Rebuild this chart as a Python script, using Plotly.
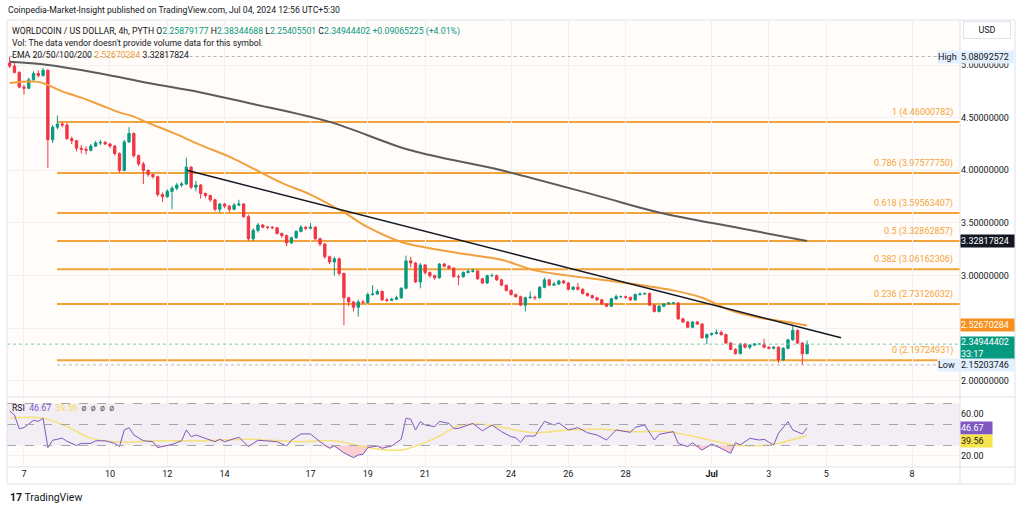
import plotly.graph_objects as go
import pandas as pd

# ---- price data: 4h candles, first bar 2024-06-06 12:00 ----
start = "2024-06-06 12:00"
first_open = 5.02
close = [4.99, 4.93, 4.79, 4.78, 4.86, 4.92, 4.90, 4.95, 4.29, 4.41,
         4.44, 4.43, 4.30, 4.28, 4.21, 4.20, 4.19, 4.23, 4.26, 4.265,
         4.25, 4.23, 4.16, 4.00, 4.27, 4.35, 4.14, 4.06, 4.00, 3.96,
         3.94, 3.77, 3.75, 3.80, 3.83, 3.86, 3.87, 4.03, 3.84, 3.86,
         3.78, 3.76, 3.72, 3.63, 3.68, 3.66, 3.63, 3.67, 3.68, 3.56,
         3.35, 3.43, 3.48, 3.46, 3.46, 3.455, 3.40, 3.38, 3.31, 3.36,
         3.42, 3.46, 3.45, 3.46, 3.35, 3.30, 3.18, 3.13, 3.16, 3.02,
         2.79, 2.75, 2.70, 2.75, 2.745, 2.82, 2.825, 2.85, 2.77, 2.765,
         2.775, 2.79, 2.88, 3.14, 3.12, 2.94, 3.10, 3.03, 3.00, 2.98,
         3.11, 3.09, 3.07, 2.99, 2.99, 3.03, 3.04, 3.045, 2.97, 2.93,
         3.00, 3.00, 2.96, 2.91, 2.86, 2.82, 2.80, 2.72, 2.79, 2.795,
         2.79, 2.89, 2.96, 2.91, 2.92, 2.95, 2.93, 2.87, 2.89, 2.87,
         2.83, 2.81, 2.79, 2.77, 2.73, 2.71, 2.78, 2.80, 2.80, 2.795,
         2.77, 2.82, 2.825, 2.83, 2.72, 2.66, 2.71, 2.73, 2.74, 2.74,
         2.59, 2.56, 2.51, 2.56, 2.54, 2.41, 2.44, 2.45, 2.46, 2.44,
         2.36, 2.30, 2.26, 2.35, 2.32, 2.34, 2.35, 2.35, 2.32, 2.31,
         2.32, 2.20, 2.31, 2.39, 2.48, 2.36, 2.25879177, 2.34944402]
high = [5.08092572, 5.03, 4.94, 4.81, 4.88, 4.94, 4.95, 4.97, 4.96, 4.43,
        4.52, 4.46, 4.45, 4.32, 4.29, 4.24, 4.23, 4.25, 4.28, 4.29,
        4.28, 4.26, 4.24, 4.17, 4.29, 4.41, 4.36, 4.15, 4.08, 4.01,
        3.97, 3.95, 3.79, 3.82, 3.85, 3.88, 3.89, 4.12, 4.04, 3.90,
        3.87, 3.79, 3.77, 3.73, 3.69, 3.69, 3.67, 3.69, 3.72, 3.69,
        3.58, 3.45, 3.50, 3.49, 3.47, 3.47, 3.46, 3.41, 3.39, 3.37,
        3.43, 3.48, 3.47, 3.50, 3.47, 3.36, 3.31, 3.19, 3.18, 3.17,
        3.03, 2.80, 2.76, 2.77, 2.77, 2.84, 2.91, 2.87, 2.86, 2.79,
        2.79, 2.81, 2.89, 3.19, 3.18, 3.13, 3.12, 3.11, 3.04, 3.01,
        3.12, 3.12, 3.10, 3.08, 3.01, 3.04, 3.06, 3.07, 3.05, 2.98,
        3.01, 3.02, 3.01, 2.97, 2.91, 2.87, 2.83, 2.81, 2.80, 2.85,
        2.81, 2.90, 2.98, 2.97, 2.94, 2.96, 2.96, 2.94, 2.90, 2.93,
        2.88, 2.84, 2.82, 2.80, 2.78, 2.74, 2.79, 2.82, 2.81, 2.81,
        2.80, 2.83, 2.84, 2.84, 2.84, 2.73, 2.72, 2.74, 2.75, 2.75,
        2.75, 2.60, 2.57, 2.57, 2.57, 2.55, 2.45, 2.46, 2.49, 2.48,
        2.45, 2.37, 2.31, 2.36, 2.36, 2.35, 2.36, 2.36, 2.40, 2.33,
        2.33, 2.33, 2.32, 2.40, 2.52, 2.49, 2.37, 2.38344688]
low = [4.97, 4.92, 4.78, 4.72, 4.77, 4.85, 4.88, 4.89, 4.02, 4.26,
       4.39, 4.41, 4.29, 4.25, 4.18, 4.16, 4.15, 4.18, 4.22, 4.24,
       4.24, 4.21, 4.14, 3.98, 3.99, 4.26, 4.12, 4.04, 3.87, 3.94,
       3.92, 3.75, 3.70, 3.74, 3.63, 3.81, 3.84, 3.86, 3.82, 3.80,
       3.73, 3.74, 3.70, 3.61, 3.60, 3.64, 3.60, 3.62, 3.66, 3.55,
       3.33, 3.33, 3.41, 3.45, 3.44, 3.44, 3.39, 3.36, 3.28, 3.30,
       3.35, 3.41, 3.43, 3.44, 3.34, 3.28, 3.16, 3.11, 3.00, 3.00,
       2.53, 2.71, 2.66, 2.61, 2.73, 2.73, 2.81, 2.82, 2.76, 2.75,
       2.76, 2.77, 2.78, 2.87, 3.08, 2.93, 2.88, 3.01, 2.98, 2.96,
       2.97, 3.08, 3.06, 2.98, 2.91, 2.98, 3.02, 3.03, 2.96, 2.92,
       2.92, 2.99, 2.95, 2.90, 2.85, 2.81, 2.79, 2.71, 2.66, 2.78,
       2.77, 2.78, 2.88, 2.90, 2.90, 2.91, 2.92, 2.86, 2.86, 2.86,
       2.82, 2.80, 2.78, 2.76, 2.72, 2.70, 2.70, 2.77, 2.79, 2.78,
       2.76, 2.76, 2.81, 2.82, 2.71, 2.65, 2.65, 2.70, 2.73, 2.73,
       2.58, 2.55, 2.50, 2.50, 2.53, 2.40, 2.35, 2.43, 2.44, 2.43,
       2.35, 2.29, 2.25, 2.25, 2.31, 2.30, 2.33, 2.34, 2.31, 2.30,
       2.30, 2.17, 2.19, 2.30, 2.38, 2.35, 2.15203746, 2.25405501]

# ---- EMA 50 / EMA 200 ----
ema50_time = ["2024-06-06 12:00", "2024-06-07 12:00", "2024-06-07 20:00", "2024-06-08 08:00",
              "2024-06-09 00:00", "2024-06-09 16:00", "2024-06-10 08:00", "2024-06-10 20:00",
              "2024-06-11 08:00", "2024-06-12 04:00", "2024-06-13 04:00", "2024-06-14 04:00",
              "2024-06-14 20:00", "2024-06-16 00:00", "2024-06-17 00:00", "2024-06-18 04:00",
              "2024-06-19 00:00", "2024-06-20 04:00", "2024-06-21 04:00", "2024-06-22 12:00",
              "2024-06-23 16:00", "2024-06-24 20:00", "2024-06-26 00:00", "2024-06-27 12:00",
              "2024-06-28 12:00", "2024-06-29 16:00", "2024-06-30 16:00", "2024-07-01 16:00",
              "2024-07-02 16:00", "2024-07-03 16:00", "2024-07-04 08:00"]
ema50 = [4.83, 4.84, 4.81, 4.75, 4.69, 4.62, 4.55, 4.51, 4.45, 4.36, 4.24, 4.13,
         4.04, 3.88, 3.77, 3.60, 3.46, 3.32, 3.26, 3.20, 3.15, 3.05, 3.00, 2.95,
         2.91, 2.86, 2.79, 2.67, 2.60, 2.56, 2.52670284]
ema200_time = ["2024-06-06 12:00", "2024-06-07 20:00", "2024-06-09 16:00", "2024-06-11 08:00",
               "2024-06-13 04:00", "2024-06-14 20:00", "2024-06-17 16:00", "2024-06-20 12:00",
               "2024-06-23 16:00", "2024-06-27 00:00", "2024-06-29 04:00", "2024-07-02 00:00",
               "2024-07-04 08:00"]
ema200 = [5.03, 5.00, 4.92, 4.83, 4.74, 4.64, 4.46, 4.19, 4.00, 3.76, 3.60, 3.45, 3.32817824]

# ---- fibonacci retracement & trend line ----
fib_ratio = ["1", "0.786", "0.618", "0.5", "0.382", "0.236", "0"]
fib_price = [4.46000782, 3.97577750, 3.59563407, 3.32862857, 3.06162306, 2.73126032, 2.19724931]
fib_start = "2024-06-08 03:40"
trend_time = ["2024-06-12 16:30", "2024-07-05 12:25"]
trend_price = [4.00, 2.41]

# ---- RSI and its moving average ----
rsi_time = ["2024-06-06 12:00", "2024-06-06 16:00", "2024-06-06 20:00", "2024-06-07 00:00",
            "2024-06-07 08:00", "2024-06-07 12:00", "2024-06-07 16:00", "2024-06-07 20:00",
            "2024-06-08 00:00", "2024-06-08 08:00", "2024-06-08 12:00", "2024-06-08 20:00",
            "2024-06-09 00:00", "2024-06-09 08:00", "2024-06-09 12:00", "2024-06-09 20:00",
            "2024-06-10 04:00", "2024-06-10 08:00", "2024-06-10 12:00", "2024-06-10 16:00",
            "2024-06-10 20:00", "2024-06-11 04:00", "2024-06-11 12:00", "2024-06-11 16:00",
            "2024-06-12 04:00", "2024-06-12 12:00", "2024-06-12 16:00", "2024-06-12 20:00",
            "2024-06-13 00:00", "2024-06-13 08:00", "2024-06-13 16:00", "2024-06-13 20:00",
            "2024-06-14 00:00", "2024-06-14 12:00", "2024-06-14 20:00", "2024-06-15 04:00",
            "2024-06-15 12:00", "2024-06-15 20:00", "2024-06-16 04:00", "2024-06-16 08:00",
            "2024-06-16 16:00", "2024-06-17 00:00", "2024-06-17 08:00", "2024-06-17 16:00",
            "2024-06-17 20:00", "2024-06-18 04:00", "2024-06-18 12:00", "2024-06-18 16:00",
            "2024-06-18 20:00", "2024-06-19 00:00", "2024-06-19 08:00", "2024-06-19 12:00",
            "2024-06-19 20:00", "2024-06-20 04:00", "2024-06-20 08:00", "2024-06-20 12:00",
            "2024-06-20 16:00", "2024-06-20 20:00", "2024-06-21 00:00", "2024-06-21 08:00",
            "2024-06-21 12:00", "2024-06-21 20:00", "2024-06-22 00:00", "2024-06-22 04:00",
            "2024-06-22 12:00", "2024-06-22 16:00", "2024-06-23 00:00", "2024-06-23 08:00",
            "2024-06-23 16:00", "2024-06-24 00:00", "2024-06-24 04:00", "2024-06-24 08:00",
            "2024-06-24 12:00", "2024-06-24 20:00", "2024-06-25 04:00", "2024-06-25 12:00",
            "2024-06-25 16:00", "2024-06-26 00:00", "2024-06-26 08:00", "2024-06-26 16:00",
            "2024-06-27 00:00", "2024-06-27 08:00", "2024-06-27 16:00", "2024-06-28 04:00",
            "2024-06-28 08:00", "2024-06-28 16:00", "2024-06-29 00:00", "2024-06-29 04:00",
            "2024-06-29 16:00", "2024-06-29 20:00", "2024-06-30 04:00", "2024-06-30 08:00",
            "2024-06-30 16:00", "2024-07-01 00:00", "2024-07-01 08:00", "2024-07-01 16:00",
            "2024-07-01 20:00", "2024-07-02 00:00", "2024-07-02 08:00", "2024-07-02 16:00",
            "2024-07-02 20:00", "2024-07-03 04:00", "2024-07-03 08:00", "2024-07-03 16:00",
            "2024-07-03 20:00", "2024-07-04 04:00", "2024-07-04 08:00"]
rsi = [63, 59, 46, 47, 54, 53, 56, 28, 35, 37, 34, 30, 32, 32, 34.5, 34.5, 32, 29,
       44.8, 47, 40, 34.5, 33.6, 28, 31, 34.5, 44.8, 38.4, 40, 37, 33.6, 36, 33.6,
       37.8, 29, 35, 34.5, 33.6, 29.5, 35, 41, 41, 33.6, 27.3, 29.5, 23, 18.4, 21,
       21.5, 28, 29.5, 27.3, 29.5, 36, 56, 55, 44.8, 52.7, 49.5, 48, 53, 51, 46.3,
       46.3, 49.5, 51, 44, 49.5, 43.2, 38.4, 37.5, 33, 39, 39, 53, 49.5, 51.5, 44.8,
       47, 42.2, 40, 35.2, 44.8, 42.5, 47.3, 49.5, 35.2, 40.6, 43.2, 32, 28.9, 32.7,
       25.7, 31.4, 27.3, 22.5, 32.7, 30.5, 36.8, 35.2, 35.9, 30.5, 41.6, 52.7, 44.8,
       41, 46.67]
rsi_ma_time = ["2024-06-06 12:00", "2024-06-07 16:00", "2024-06-08 12:00", "2024-06-09 08:00",
               "2024-06-10 12:00", "2024-06-11 12:00", "2024-06-13 04:00", "2024-06-14 20:00",
               "2024-06-16 16:00", "2024-06-17 20:00", "2024-06-19 00:00", "2024-06-20 04:00",
               "2024-06-21 08:00", "2024-06-22 04:00", "2024-06-22 20:00", "2024-06-23 16:00",
               "2024-06-24 20:00", "2024-06-26 00:00", "2024-06-27 04:00", "2024-06-28 08:00",
               "2024-06-29 12:00", "2024-06-30 16:00", "2024-07-01 20:00", "2024-07-03 00:00",
               "2024-07-04 08:00"]
rsi_ma = [56, 56, 48, 37, 33, 34.5, 34.5, 35.9, 33.6, 34.5, 28, 25.7, 36.8, 48.6, 50.5,
          47.3, 42.2, 44.8, 45.4, 43.2, 43.2, 36.8, 30.5, 30.5, 39.56]

# ---- axis ticks ----
date_ticks = ["2024-06-07", "2024-06-10", "2024-06-12", "2024-06-14", "2024-06-17", "2024-06-19",
              "2024-06-21", "2024-06-24", "2024-06-26", "2024-06-28", "2024-07-01", "2024-07-03",
              "2024-07-05", "2024-07-08"]
date_labels = ["7", "10", "12", "14", "17", "19", "21", "24", "26", "28", "<b>Jul</b>", "3", "5", "8"]
price_ticks = [2.0, 2.5, 3.0, 3.5, 4.0, 4.5, 5.0]
price_labels = ["2.00000000", "", "3.00000000", "3.50000000", "4.00000000", "4.50000000", "5.00000000"]

W, H = 1024, 509
GREEN, RED = "#089981", "#F23645"
FIB = "#f2a43a"
FONT = "Roboto"
TXT = "#131722"
x_left, x_right = "2024-06-06 09:46", "2024-07-09 16:05"


def px(x):
    return x / W


def py(y):
    return 1 - y / H


times = pd.date_range(start, periods=len(close), freq="4h")
opens = [first_open] + close[:-1]

fig = go.Figure()

# fib lines (under candles)
for p in fib_price:
    fig.add_shape(type="line", xref="x", yref="y", x0=fib_start, x1=x_right, y0=p, y1=p,
                  line=dict(color=FIB, width=2), layer="below")

# dotted high / low / last price lines
fig.add_shape(type="line", xref="x", yref="y", x0=times[0], x1=x_right, y0=max(high), y1=max(high),
              line=dict(color="#b2b5be", width=1, dash="dot"))
fig.add_shape(type="line", xref="x", yref="y", x0=fib_start, x1=x_right, y0=min(low), y1=min(low),
              line=dict(color="#b2b5be", width=1, dash="dot"))
fig.add_shape(type="line", xref="x", yref="y", x0=x_left, x1=x_right, y0=close[-1], y1=close[-1],
              line=dict(color="#7fc8b8", width=1, dash="dot"))

fig.add_trace(go.Scatter(x=ema200_time, y=ema200, mode="lines", line=dict(color="#5d5b5b", width=2, shape="spline"),
                         xaxis="x", yaxis="y", hoverinfo="skip"))
fig.add_trace(go.Scatter(x=ema50_time, y=ema50, mode="lines", line=dict(color="#f0a03c", width=2, shape="spline"),
                         xaxis="x", yaxis="y", hoverinfo="skip"))

fig.add_trace(go.Candlestick(
    x=times, open=opens, high=high, low=low, close=close,
    increasing=dict(line=dict(color=GREEN, width=1), fillcolor=GREEN),
    decreasing=dict(line=dict(color=RED, width=1), fillcolor=RED),
    whiskerwidth=0, xaxis="x", yaxis="y", hoverinfo="skip"))

fig.add_trace(go.Scatter(x=trend_time, y=trend_price, mode="lines", line=dict(color="#131722", width=1.5),
                         xaxis="x", yaxis="y", hoverinfo="skip"))

# RSI pane
fig.add_shape(type="rect", xref="x2", yref="y2", x0=x_left, x1=x_right, y0=30, y1=70,
              fillcolor="rgba(126,87,194,0.09)", line_width=0, layer="below")
for lv in [70, 50, 30]:
    fig.add_shape(type="line", xref="x2", yref="y2", x0=x_left, x1=x_right, y0=lv, y1=lv,
                  line=dict(color="#a3a6af", width=1, dash="dash"))

fig.add_trace(go.Scatter(x=rsi_time, y=[30] * len(rsi), mode="lines", line=dict(width=0),
                         xaxis="x2", yaxis="y2", hoverinfo="skip"))
fig.add_trace(go.Scatter(x=rsi_time, y=[min(v, 30) for v in rsi], mode="lines", line=dict(width=0),
                         fill="tonexty", fillcolor="rgba(242,54,69,0.22)",
                         xaxis="x2", yaxis="y2", hoverinfo="skip"))
fig.add_trace(go.Scatter(x=rsi_ma_time, y=rsi_ma, mode="lines", line=dict(color="#f5e17a", width=1.5, shape="spline"),
                         xaxis="x2", yaxis="y2", hoverinfo="skip"))
fig.add_trace(go.Scatter(x=rsi_time, y=rsi, mode="lines", line=dict(color="#7e57c2", width=1),
                         xaxis="x2", yaxis="y2", hoverinfo="skip"))

xdom = [px(7), px(960)]
grid = "#f0f1f4"
fig.update_layout(
    width=W, height=H, margin=dict(l=0, r=0, t=0, b=0),
    paper_bgcolor="white", plot_bgcolor="#fffcfa", showlegend=False, hovermode=False,
    font=dict(family=FONT, size=9, color=TXT),
    xaxis=dict(domain=xdom, anchor="y", range=[x_left, x_right], tickvals=date_ticks, showticklabels=False,
               showgrid=True, gridcolor=grid, rangeslider=dict(visible=False), zeroline=False),
    yaxis=dict(domain=[py(396), py(21)], range=[1.857, 5.418], side="right", anchor="x",
               tickvals=price_ticks, ticktext=price_labels, showgrid=True, gridcolor=grid,
               ticks="", zeroline=False, tickfont=dict(size=9, color=TXT)),
    xaxis2=dict(domain=xdom, anchor="y2", range=[x_left, x_right], tickvals=date_ticks, ticktext=date_labels,
                showgrid=True, gridcolor=grid, tickfont=dict(size=9, color=TXT), ticks="", zeroline=False),
    yaxis2=dict(domain=[py(467), py(397)], range=[9.5, 76.2], side="right", anchor="x2",
                tickvals=[20, 60], ticktext=["20.00", "60.00"], showgrid=True, gridcolor=grid,
                ticks="", zeroline=False, tickfont=dict(size=9, color=TXT)),
)

# frame lines
frame = "#e0e3eb"
for x0, y0, x1, y1 in [(7, 20, 1015, 20), (7, 484, 1015, 484), (7, 20, 7, 484), (1015, 20, 1015, 484),
                       (960, 20, 960, 484), (7, 397, 1015, 397), (7, 467, 1015, 467)]:
    fig.add_shape(type="line", xref="paper", yref="paper", x0=px(x0), x1=px(x1), y0=py(y0), y1=py(y1),
                  line=dict(color=frame, width=1))

ann = []


def text(x, y, s, size=8.7, color=TXT, xanchor="left", **kw):
    ann.append(dict(x=px(x), y=py(y), xref="paper", yref="paper", text=s, showarrow=False,
                    xanchor=xanchor, yanchor="middle", font=dict(size=size, color=color, family=FONT), **kw))


def g(s):
    return f"<span style='color:{GREEN}'>{s}</span>"


text(6, 10, "Coinpedia-Market-Insight published on TradingView.com, Jul 04, 2024 12:56 UTC+5:30")
text(10, 31, "WORLDCOIN / US DOLLAR, 4h, PYTH O" + g("2.25879177") + " H" + g("2.38344688") + " L"
     + g("2.25405501") + " C" + g("2.34944402") + " " + g("+0.09065225 (+4.01%)"))
text(10, 43, "Vol: The data vendor doesn't provide volume data for this symbol.")
text(10, 55, "EMA 20/50/100/200 <span style='color:#f0a03c'>2.52670284</span> 3.32817824")
text(10, 408, "RSI  <span style='color:#7e57c2'>46.67</span>  <span style='color:#f2dc5d'>39.56</span>"
     "  <span style='color:#555'>ø  ø  ø  ø</span>")

for r, p in zip(fib_ratio, fib_price):
    ann.append(dict(x=px(955), y=p, xref="paper", yref="y", text=f"{r} ({p:.8f})", showarrow=False,
                    xanchor="right", yanchor="bottom", yshift=2, font=dict(size=9, color=FIB, family=FONT)))


def tag(y, s, bg, color="white", yref="y", w=53, h=12, x=960, yshift=0):
    ann.append(dict(x=px(x), y=y, xref="paper", yref=yref, text=s, showarrow=False, xanchor="left",
                    yanchor="middle", bgcolor=bg, width=w, height=h, align="left", borderpad=0,
                    yshift=yshift, font=dict(size=9, color=color, family=FONT)))


text(987, 30, "USD", size=9, xanchor="center", bordercolor="#e0e3eb", borderwidth=1, width=44, height=14,
     bgcolor="white")
tag(max(high), "High", "#e3effd", color=TXT, w=23, x=937)
tag(max(high), f"{max(high):.8f}", "#e3effd", color=TXT)
tag(ema200[-1], f"{ema200[-1]:.8f}", "#131722")
tag(ema50[-1], f"{ema50[-1]:.8f}", "#f7901e")
tag(close[-1], f"{close[-1]:.8f}<br>33:17", GREEN, h=22, yshift=-4)
tag(min(low), "Low", "#e3effd", color=TXT, w=23, x=937)
tag(min(low), f"{min(low):.8f}", "#e3effd", color=TXT)
tag(rsi[-1], f"{rsi[-1]:.2f}", "#7e57c2", yref="y2", w=31)
tag(rsi_ma[-1], f"{rsi_ma[-1]:.2f}", "#f7e34b", color=TXT, yref="y2", w=31, yshift=-6)

text(8, 497, "<b>17</b> TradingView", size=10.5)

fig.update_layout(annotations=ann)
fig.write_html("out.html", config={"displayModeBar": False},
               post_script="document.body.style.margin='0px';")
